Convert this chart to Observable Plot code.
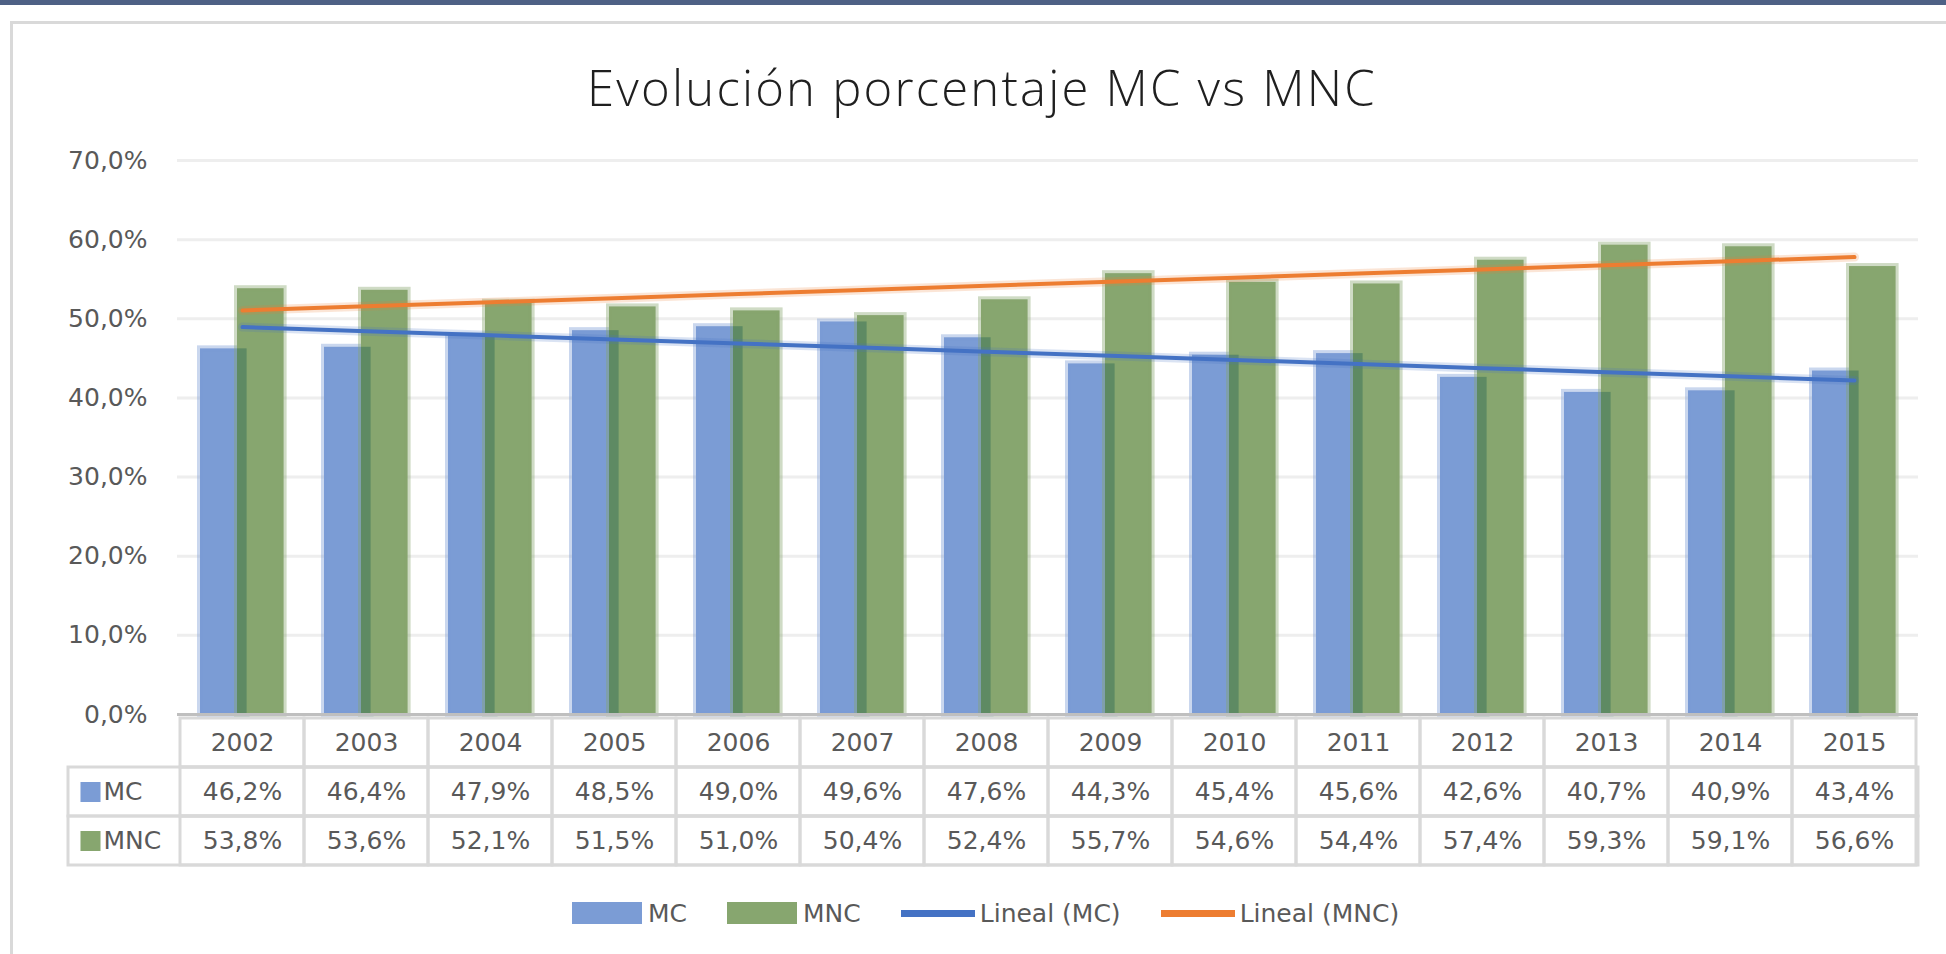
<!DOCTYPE html>
<html>
<head>
<meta charset="utf-8">
<script src="https://cdn.jsdelivr.net/npm/d3@7"></script>
<script src="https://cdn.jsdelivr.net/npm/@observablehq/plot@0.6"></script>
<style>
  html, body { margin: 0; padding: 0; background: #fff; }
  body { width: 1946px; height: 954px; overflow: hidden; position: relative; font-family: "DejaVu Sans", sans-serif; }
  #topbar { position: absolute; left: 0; top: 0; width: 1946px; height: 5px; background: #4e6185; }
  #frame { position: absolute; left: 10px; top: 21px; width: 2000px; height: 1000px; border-left: 3px solid #d9d9d9; border-top: 3px solid #d9d9d9; box-sizing: border-box; }
  #title { position: absolute; left: 0; width: 1964px; top: 57px; text-align: center; font-family: "Open Sans", sans-serif; font-weight: 300; font-size: 49px; line-height: 60px; color: #1f1f1f; letter-spacing: 2.2px; white-space: nowrap; }
  #chart { position: absolute; left: 0; top: 100px; }
  #table { position: absolute; left: 0; top: 716px; }
  #legend { position: absolute; left: 572px; top: 901px; height: 24px; display: flex; align-items: center; font-family: "DejaVu Sans", sans-serif; font-size: 25px; color: #595959; white-space: nowrap; }
  #legend .item { display: flex; align-items: center; margin-right: 40px; }
  #legend .sw { width: 70px; height: 22px; margin-right: 6px; }
  #legend .ln { width: 74px; height: 7px; margin-right: 5px; }
</style>
</head>
<body>
<div id="topbar"></div>
<div id="frame"></div>
<div id="title">Evolución porcentaje MC vs MNC</div>
<div id="chart"></div>
<div id="table"></div>
<div id="legend"></div>
<script>
// ---- data ----
const years = [2002, 2003, 2004, 2005, 2006, 2007, 2008, 2009, 2010, 2011, 2012, 2013, 2014, 2015];
const mc  = [46.2, 46.4, 47.9, 48.5, 49.0, 49.6, 47.6, 44.3, 45.4, 45.6, 42.6, 40.7, 40.9, 43.4];
const mnc = [53.8, 53.6, 52.1, 51.5, 51.0, 50.4, 52.4, 55.7, 54.6, 54.4, 57.4, 59.3, 59.1, 56.6];
const seriesNames = ["MC", "MNC"];
const trendNames = ["Lineal (MC)", "Lineal (MNC)"];
const yTicks = [0, 10, 20, 30, 40, 50, 60, 70];

// ---- styles ----
const blue = "#7b9cd5", green = "#87a66f", overlap = "#5e8a63";
const trendBlue = "#4472c4", trendOrange = "#ed7d31";
const fmt = v => v.toFixed(1).replace(".", ",") + "%";

const data = years.map((y, i) => ({ year: y, MC: mc[i], MNC: mnc[i], low: Math.min(mc[i], mnc[i]) }));

// linear trend (least squares on index)
function trend(vals) {
  const xs = vals.map((_, i) => i);
  const mx = d3.mean(xs), my = d3.mean(vals);
  const b = d3.sum(xs, (x, i) => (x - mx) * (vals[i] - my)) / d3.sum(xs, x => (x - mx) ** 2);
  const a = my - b * mx;
  return years.map((y, i) => ({ year: y, v: a + b * i }));
}
const trendMC = trend(mc), trendMNC = trend(mnc);

const W = 1946, ML = 177, MR = 28;
const font = { fontFamily: "DejaVu Sans, sans-serif", fontSize: "25px", color: "#595959", background: "transparent", overflow: "visible" };

const chart = Plot.plot({
  width: W, height: 616,
  marginLeft: ML, marginRight: MR, marginTop: 60, marginBottom: 2,
  style: font,
  x: { type: "band", domain: years, padding: 0, axis: null },
  y: { domain: [0, 70], ticks: yTicks, tickFormat: fmt, label: null },
  marks: [
    Plot.gridY(yTicks.slice(1), { stroke: "#eeeeee", strokeOpacity: 1, strokeWidth: 3 }),
    Plot.axisY(yTicks, { tickSize: 0, tickPadding: 30, tickFormat: fmt, label: null, fontSize: 25 }),
    Plot.barY(data, { x: "year", y: "MC", fill: blue, stroke: blue, strokeOpacity: 0.4, strokeWidth: 6, insetLeft: 20, insetRight: 57.4 }),
    Plot.barY(data, { x: "year", y: "MNC", fill: green, stroke: green, strokeOpacity: 0.4, strokeWidth: 6, insetLeft: 57, insetRight: 20.4 }),
    Plot.barY(data, { x: "year", y: "low", fill: overlap, insetLeft: 57, insetRight: 57.4 }),
    Plot.ruleY([0], { stroke: "#bfbfbf", strokeWidth: 3 }),
    Plot.line(trendMNC, { x: "year", y: "v", stroke: trendOrange, strokeWidth: 9, strokeOpacity: 0.2 }),
    Plot.line(trendMNC, { x: "year", y: "v", stroke: trendOrange, strokeWidth: 4 }),
    Plot.line(trendMC, { x: "year", y: "v", stroke: trendBlue, strokeWidth: 9, strokeOpacity: 0.2 }),
    Plot.line(trendMC, { x: "year", y: "v", stroke: trendBlue, strokeWidth: 4 })
  ]
});
document.getElementById("chart").appendChild(chart);

// ---- data table under the chart ----
const rows = ["hdr", ...seriesNames];
const cells = [];
years.forEach((y, i) => {
  cells.push({ year: y, row: "hdr", text: String(y) });
  cells.push({ year: y, row: "MC", text: fmt(mc[i]) });
  cells.push({ year: y, row: "MNC", text: fmt(mnc[i]) });
});

const table = Plot.plot({
  width: W, height: 152,
  marginLeft: ML, marginRight: MR, marginTop: 2, marginBottom: 3,
  style: font,
  x: { type: "band", domain: years, padding: 0, axis: null },
  y: { type: "band", domain: rows, padding: 0, axis: null },
  marks: [
    Plot.cell(seriesNames, { y: d => d, fill: "none", stroke: "#d9d9d9", strokeWidth: 3, insetLeft: -109 }),
    Plot.cell(cells, { x: "year", y: "row", fill: "none", stroke: "#d9d9d9", strokeWidth: 3 }),
    Plot.text(cells, { x: "year", y: "row", text: "text", fontSize: 25, fill: "#595959" }),
    Plot.dot([seriesNames[0]], { y: d => d, frameAnchor: "left", dx: -87, symbol: "square", r: 11.3, fill: blue }),
    Plot.dot([seriesNames[1]], { y: d => d, frameAnchor: "left", dx: -87, symbol: "square", r: 11.3, fill: green }),
    Plot.text(seriesNames, { y: d => d, text: d => d, frameAnchor: "left", dx: -74, textAnchor: "start", fontSize: 25, fill: "#595959" })
  ]
});
document.getElementById("table").appendChild(table);

// ---- legend ----
const legend = document.getElementById("legend");
const items = [
  { kind: "sw", color: blue, label: seriesNames[0] },
  { kind: "sw", color: green, label: seriesNames[1] },
  { kind: "ln", color: trendBlue, label: trendNames[0] },
  { kind: "ln", color: trendOrange, label: trendNames[1] }
];
items.forEach(it => {
  const d = document.createElement("div");
  d.className = "item";
  const s = document.createElement("span");
  s.className = it.kind;
  s.style.background = it.color;
  const t = document.createElement("span");
  t.textContent = it.label;
  d.appendChild(s); d.appendChild(t);
  legend.appendChild(d);
});
</script>
</body>
</html>
